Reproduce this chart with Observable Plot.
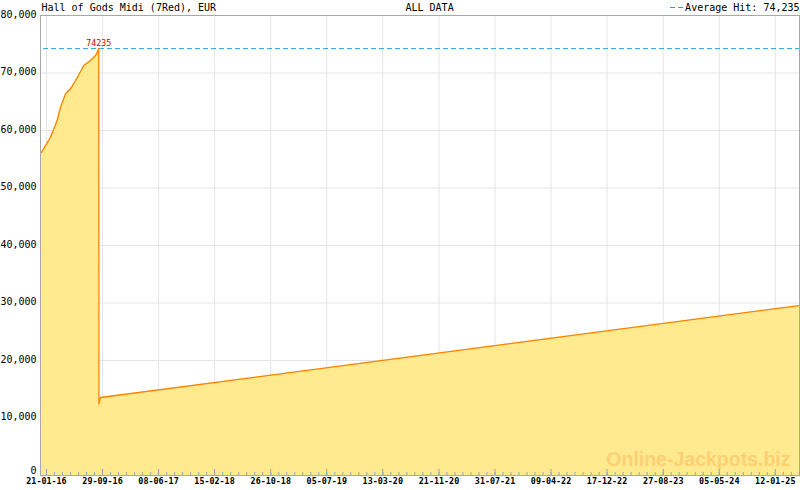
<!DOCTYPE html>
<html>
<head>
<meta charset="utf-8">
<script src="https://cdn.jsdelivr.net/npm/d3@7"></script>
<script src="https://cdn.jsdelivr.net/npm/@observablehq/plot@0.6"></script>
<style>
  html, body { margin: 0; padding: 0; background: #fff; }
  #chart svg { display: block; }
</style>
</head>
<body>
<div id="chart"></div>
<script>
// ---- data ----
const dates = ["2015-12-25","2015-12-30","2016-02-08","2016-03-09","2016-03-24","2016-04-16","2016-05-08","2016-05-31","2016-07-07","2016-08-06","2016-08-29","2016-09-12","2016-09-13","2016-09-17","2016-09-20","2025-05-01"];
const values = [56100, 56230, 58830, 61740, 64050, 66380, 67250, 68700, 71300, 72170, 73040, 74235, 12470, 13170, 13565, 29560];
const tickDates = ["2016-01-21","2016-09-29","2017-06-08","2018-02-15","2018-10-26","2019-07-05","2020-03-13","2020-11-21","2021-07-31","2022-04-09","2022-12-17","2023-08-27","2024-05-05","2025-01-12"];
const yTicks = [0, 10000, 20000, 30000, 40000, 50000, 60000, 70000, 80000];
const averageHit = 74235;
const peakLabel = "74235";
const title = "Hall of Gods Midi (7Red), EUR";
const period = "ALL DATA";
const legendText = "Average Hit: 74,235";
const watermark = "Online-Jackpots.biz";

const parse = d3.utcParse("%Y-%m-%d");
const data = dates.map((d, i) => ({date: parse(d), value: values[i]}));
const majors = tickDates.map(parse);
const x0 = parse("2015-12-25"), x1 = parse("2025-05-01");
// minor ticks: 6 evenly between majors, plus extending past the ends
const step = (majors[majors.length - 1] - majors[0]) / (majors.length - 1) / 7;
const minors = [];
for (let t = +majors[0] - 7 * step; t <= +majors[majors.length - 1] + 7 * step; t += step) minors.push(new Date(t));
const peak = data.filter(d => d.value === averageHit);

const mono = "DejaVu Sans Mono";
const W = 800, H = 490, mt = 15, mb = 15, ml = 40, mr = 1;
const innerH = H - mt - mb;

const chart = Plot.plot({
  width: W, height: H,
  marginTop: mt, marginBottom: mb, marginLeft: ml, marginRight: mr,
  style: {fontFamily: mono, fontSize: "10px", background: "#fff", color: "#000"},
  x: {type: "utc", domain: [x0, x1], label: null},
  y: {domain: [0, 80000], label: null},
  marks: [
    Plot.gridY(yTicks, {stroke: "#e6e6e6", strokeOpacity: 1}),
    Plot.gridX(majors, {stroke: "#e6e6e6", strokeOpacity: 1}),
    Plot.areaY(data, {x: "date", y: "value", fill: "#ffea90"}),
    Plot.text([watermark], {frameAnchor: "bottom-right", dx: -9, dy: -10, textAnchor: "end", lineAnchor: "bottom", fill: "#fed074", fontSize: 19.5, fontWeight: "bold", fontFamily: "Liberation Sans"}),
    Plot.lineY(data, {x: "date", y: "value", stroke: "#ff8000", strokeWidth: 1.3}),
    Plot.ruleY([averageHit], {stroke: "#1ea0d8", strokeDasharray: "5,3", strokeWidth: 1, insetLeft: 3}),
    Plot.text(peak, {x: "date", y: "value", text: () => peakLabel, dy: -3, lineAnchor: "bottom", fill: "#cc0000", fontSize: 8.3}),
    Plot.frame({stroke: "#a8a8a8"}),
    Plot.ruleX(minors.filter(d => d >= x0 && d <= x1), {x: d => d, insetTop: innerH - 3, stroke: "#a0a0b0"}),
    Plot.ruleX(majors, {x: d => d, insetTop: innerH - 6, stroke: "#a0a0b0"}),
    Plot.axisX({ticks: majors, tickFormat: d3.utcFormat("%d-%m-%y"), tickSize: 0, tickPadding: 3, fontSize: 8.4, fontWeight: "bold", fill: "#000"}),
    Plot.axisY({ticks: yTicks.filter(v => v > 0), tickFormat: d3.format(","), tickSize: 0, tickPadding: 4, dy: -1, fontSize: 10, fill: "#000"}),
    Plot.axisY({ticks: yTicks.filter(v => v === 0), tickFormat: d3.format(","), tickSize: 0, tickPadding: 4, dy: -5, fontSize: 10, fill: "#000"}),
    Plot.text([title], {frameAnchor: "top-left", dx: 1, dy: -8, textAnchor: "start", lineAnchor: "middle", fontSize: 10, fill: "#000"}),
    Plot.text([period], {frameAnchor: "top-left", dx: 365, dy: -8, textAnchor: "start", lineAnchor: "middle", fontSize: 10, fill: "#000"}),
    Plot.text([legendText], {frameAnchor: "top-right", dx: 0, dy: -8, textAnchor: "end", lineAnchor: "middle", fontSize: 10, fill: "#000"})
  ]
});
document.getElementById("chart").appendChild(chart);

// legend dashes before "Average Hit"
d3.select(chart).append("line")
  .attr("x1", 670).attr("x2", 683).attr("y1", 7.5).attr("y2", 7.5)
  .attr("stroke", "#1ea0d8").attr("stroke-dasharray", "5,3");
</script>
</body>
</html>
